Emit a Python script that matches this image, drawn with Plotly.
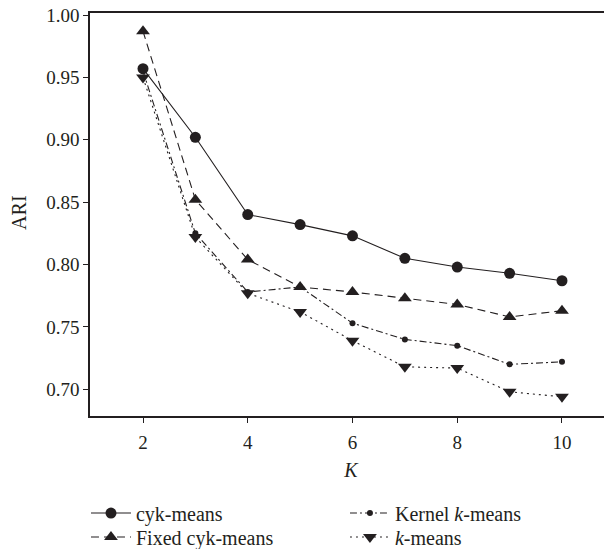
import plotly.graph_objects as go

K = [2, 3, 4, 5, 6, 7, 8, 9, 10]
cyk_means = [0.957, 0.902, 0.840, 0.832, 0.823, 0.805, 0.798, 0.793, 0.787]
fixed_cyk_means = [0.987, 0.852, 0.804, 0.782, 0.778, 0.773, 0.768, 0.758, 0.763]
kernel_k_means = [0.955, 0.825, 0.778, 0.782, 0.753, 0.740, 0.735, 0.720, 0.722]
k_means = [0.950, 0.822, 0.777, 0.762, 0.739, 0.718, 0.717, 0.698, 0.694]
y_ticks = [0.70, 0.75, 0.80, 0.85, 0.90, 0.95, 1.00]
x_ticks = [2, 4, 6, 8, 10]

INK = "#231f20"
FONT = "Liberation Serif"

fig = go.Figure()
series = [
    ("cyk-means", cyk_means, "solid", "circle", 11, "legend"),
    ("Fixed cyk-means", fixed_cyk_means, "8px,5px", "triangle-up", 12, "legend2"),
    ("Kernel <i>k</i>-means", kernel_k_means, "7px,3px,2px,3px", "circle", 6, "legend3"),
    ("<i>k</i>-means", k_means, "2px,4px", "triangle-down", 12, "legend4"),
]
for name, vals, dash, sym, size, leg in series:
    fig.add_trace(go.Scatter(
        x=K, y=vals, name=name, mode="lines+markers",
        line=dict(color=INK, width=1.1, dash=dash),
        marker=dict(symbol=sym, size=size, color=INK),
        legend=leg,
    ))

leg_common = dict(
    orientation="h", xanchor="left", yanchor="middle",
    xref="paper", yref="container",
    font=dict(family=FONT, size=20, color=INK),
    itemwidth=40, bgcolor="rgba(0,0,0,0)",
)
col1_x = -0.0077
col2_x = 0.4884
row1_y = 0.0665
row2_y = 0.0222

fig.update_layout(
    width=604, height=541,
    margin=dict(l=82, r=0, t=5, b=133, autoexpand=False),
    paper_bgcolor="white", plot_bgcolor="white",
    font=dict(family=FONT, size=19, color=INK),
    showlegend=True,
    legend=dict(x=col1_x, y=row1_y, **leg_common),
    legend2=dict(x=col1_x, y=row2_y, **leg_common),
    legend3=dict(x=col2_x, y=row1_y, **leg_common),
    legend4=dict(x=col2_x, y=row2_y, **leg_common),
    xaxis=dict(
        range=[0.988, 10.955], tickvals=x_ticks, ticks="outside", ticklen=5,
        tickcolor=INK, showline=True, linecolor=INK, linewidth=1.5, mirror=True,
        showgrid=False, zeroline=False, ticklabelstandoff=3,
        title=dict(text="<i>K</i>", standoff=11, font=dict(size=20)),
    ),
    yaxis=dict(
        range=[0.6786, 1.0016], tickvals=y_ticks, tickformat=".2f",
        ticks="outside", ticklen=5, tickcolor=INK, showline=True,
        linecolor=INK, linewidth=1.5, showgrid=False, zeroline=False,
        ticklabeloverflow="allow",
    ),
    annotations=[dict(
        text="ARI", textangle=-90, xref="paper", yref="paper",
        x=(11 - 82) / 522, y=0.504, xanchor="center", yanchor="middle",
        showarrow=False, font=dict(family=FONT, size=20, color=INK),
    )],
)

fig.write_html("out.html")
